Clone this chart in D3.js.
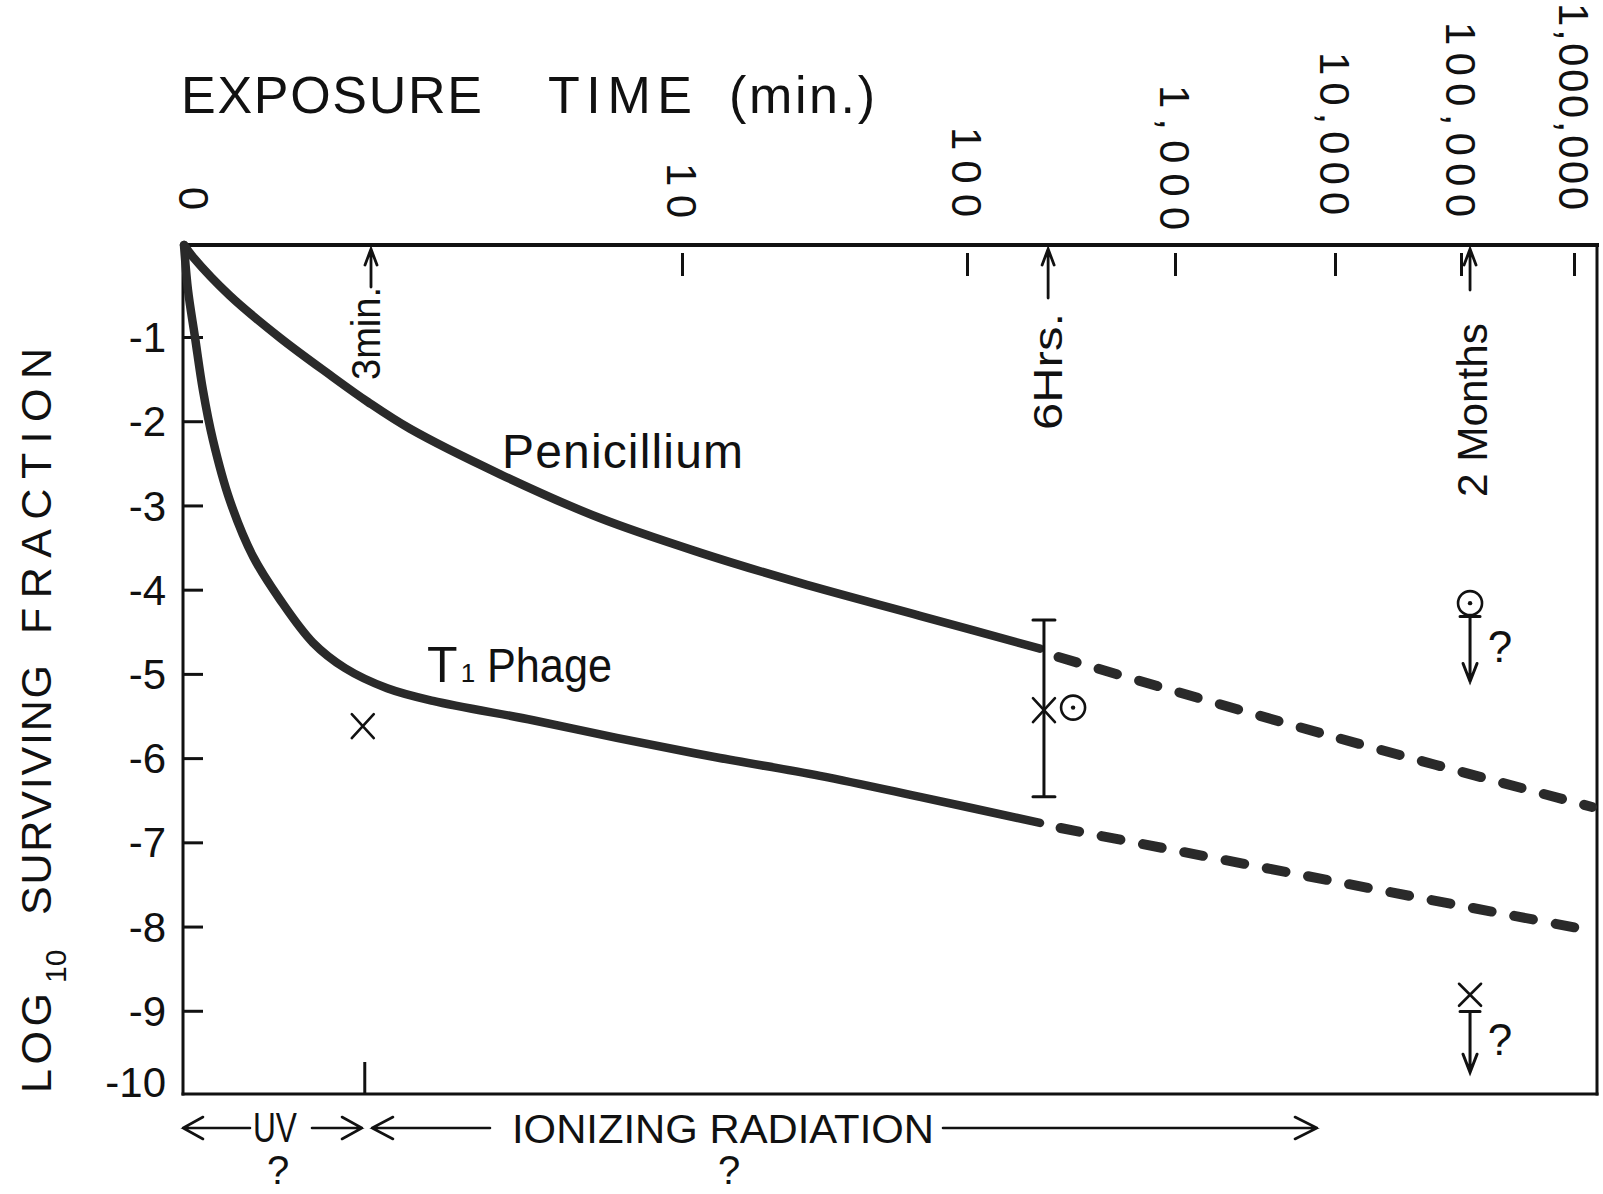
<!DOCTYPE html>
<html><head><meta charset="utf-8">
<script src="https://cdn.jsdelivr.net/npm/d3@7"></script>
<style>html,body{margin:0;background:#fff}svg{display:block}</style>
</head><body>
<svg id="chart" width="1603" height="1194"></svg>
<script>
// ---------------- DATA ----------------
// x positions are in "decade index" units of the exposure-time axis (0 -> 0 min, 1 -> 10 min, ... 6 -> 1,000,000 min)
const xTickIndex = [0, 1, 2, 3, 4, 5, 6];
const xTickLabels = ["0", "10", "100", "1,000", "10,000", "100,000", "1,000,000"];
const yTicks = [-1, -2, -3, -4, -5, -6, -7, -8, -9, -10];

// log10 surviving fraction
const penicilliumSolid = [[0,0],[0.018,-0.13],[0.092,-0.55],[0.193,-1.01],[0.293,-1.45],[0.369,-1.77],[0.454,-2.09],[0.635,-2.63],[0.835,-3.15],[1.063,-3.56],[1.414,-3.92],[1.835,-4.31],[2.351,-4.70]];
const penicilliumDashed = [[2.44,-4.80],[3.96,-5.73],[6.16,-6.58]];
const phageSolid = [[0,0],[0.008,-0.49],[0.022,-1.00],[0.038,-1.63],[0.058,-2.22],[0.092,-2.94],[0.139,-3.61],[0.193,-4.12],[0.259,-4.63],[0.323,-4.93],[0.408,-5.17],[0.5,-5.32],[0.701,-5.55],[0.869,-5.76],[1.119,-5.99],[1.484,-6.21],[1.835,-6.46],[2.351,-6.77]];
const phageDashed = [[2.45,-6.83],[3.96,-7.45],[6.16,-8.05]];

const crossPoints = [[0.359,-5.62],[2.37,-5.43]];
const circlePoints = [[2.51,-5.40]];
const errorBars = [[2.37,-4.36,-6.46]];
// upper-limit points at 2 months: [x, value, capValue, arrowEndValue, kind]
const limitPoints = [[5.08,-4.16,-4.32,-5.09,"circle"],[5.08,-8.81,-9.01,-9.73,"cross"]];

const timeMarks = [[0.3755,"3min."],[2.39,"6Hrs."],[5.08,"2 Months"]];
const regionBoundary = [0.363];

// ---------------- LAYOUT ----------------
const FONT = "'Liberation Sans', Arial, Helvetica, sans-serif";
const xRange = [184, 682, 967, 1175, 1335, 1461, 1574];
const x = d3.scaleLinear().domain(xTickIndex).range(xRange);
const y = d3.scaleLinear().domain([0, -1, -10]).range([245, 337, 1095]);
const F = {left: 183, right: 1597, top: 245, bottom: 1094};
const INK = "#111";
const CURVE = "#2a2a2a";

const svg = d3.select("#chart");
svg.append("rect").attr("width",1603).attr("height",1194).attr("fill","#fff");

// frame
const frame = svg.append("g").attr("stroke", INK).attr("stroke-linecap","square");
frame.append("line").attr("x1",F.left).attr("x2",F.right).attr("y1",F.top).attr("y2",F.top).attr("stroke-width",4);
frame.append("line").attr("x1",F.left).attr("x2",F.left).attr("y1",F.top).attr("y2",F.bottom).attr("stroke-width",3);
frame.append("line").attr("x1",F.right).attr("x2",F.right).attr("y1",F.top).attr("y2",F.bottom).attr("stroke-width",3);
frame.append("line").attr("x1",F.left).attr("x2",F.right).attr("y1",F.bottom).attr("y2",F.bottom).attr("stroke-width",3);

// top ticks (detached, inward)
const topAxis = svg.append("g").attr("transform","translate(0,253)")
  .call(d3.axisBottom(x).tickValues(xTickIndex.slice(1)).tickSize(23).tickFormat(""));
topAxis.select(".domain").remove();
topAxis.selectAll("line").attr("stroke",INK).attr("stroke-width",3);

// top tick labels (rotated, read top to bottom)
const labEnd = [210, 218, 217, 230, 215, 217, 210];
const labLen = [null, 55, 90, 145, 163, 195, 207];
xTickIndex.forEach((d,i)=>{
  const t = svg.append("text")
    .attr("transform",`translate(${x(d)+(i===0?10:0)},${labEnd[i]}) rotate(90)`)
    .attr("text-anchor","end").attr("dy","0.36em")
    .attr("font-family",FONT).attr("font-size",42).attr("fill",INK)
    .text(xTickLabels[i]);
  if (labLen[i]) t.attr("textLength",labLen[i]).attr("lengthAdjust","spacing");
});

// left axis ticks
const leftAxis = svg.append("g").attr("transform",`translate(${F.left},0)`)
  .call(d3.axisRight(y).tickValues(yTicks.slice(0,-1)).tickSize(20).tickFormat(""));
leftAxis.select(".domain").remove();
leftAxis.selectAll("line").attr("stroke",INK).attr("stroke-width",3);

yTicks.forEach((v,i)=>{
  svg.append("text").attr("x",166).attr("y",y(v) + (i===yTicks.length-1 ? -13 : 0))
    .attr("dy","0.36em").attr("text-anchor","end")
    .attr("font-family",FONT).attr("font-size",42).attr("fill",INK)
    .text(String(v));
});

// bottom boundary tick
regionBoundary.forEach(b=>{
  svg.append("line").attr("x1",x(b)).attr("x2",x(b)).attr("y1",1062).attr("y2",F.bottom)
    .attr("stroke",INK).attr("stroke-width",3);
});

// title
const title = [["EXPOSURE",181,301],["TIME",548,144],["(min.)",729,146]];
title.forEach(([t,x0,len])=>{
  svg.append("text").attr("x",x0).attr("y",113).attr("font-family",FONT).attr("font-size",52)
    .attr("fill",INK).attr("textLength",len).attr("lengthAdjust","spacing").text(t);
});

// y axis label
const yl = [["LOG",51,1093,100,43],["10",66,983,null,30],["SURVIVING",51,915,250,43],["FRACTION",51,634,286,43]];
yl.forEach(([t,bx,sy,len,fs])=>{
  const tt = svg.append("text").attr("transform",`translate(${bx},${sy}) rotate(-90)`)
    .attr("font-family",FONT).attr("font-size",fs).attr("fill",INK).text(t);
  if (len) tt.attr("textLength",len).attr("lengthAdjust","spacing");
});

// curves
const line = d3.line().x(d=>x(d[0])).y(d=>y(d[1])).curve(d3.curveCatmullRom.alpha(0.5));
[penicilliumSolid, phageSolid].forEach(s=>{
  svg.append("path").attr("d",line(s)).attr("fill","none").attr("stroke",CURVE)
    .attr("stroke-width",8.5).attr("stroke-linecap","round").attr("stroke-linejoin","round");
});
[penicilliumDashed, phageDashed].forEach(s=>{
  svg.append("path").attr("d",line(s)).attr("fill","none").attr("stroke",CURVE)
    .attr("stroke-width",10).attr("stroke-linecap","round").attr("stroke-dasharray","19 23");
});

// curve labels
svg.append("text").attr("x",502).attr("y",468).attr("font-family",FONT).attr("font-size",48)
  .attr("fill",INK).attr("textLength",241).attr("lengthAdjust","spacing").text("Penicillium");
svg.append("text").attr("x",427).attr("y",682).attr("font-family",FONT).attr("font-size",50)
  .attr("fill",INK).text("T");
svg.append("text").attr("x",468).attr("y",682).attr("text-anchor","middle").attr("font-family",FONT).attr("font-size",26)
  .attr("fill",INK).text("1");
svg.append("text").attr("x",487).attr("y",682).attr("font-family",FONT).attr("font-size",48)
  .attr("fill",INK).attr("textLength",125).attr("lengthAdjust","spacingAndGlyphs").text("Phage");

// markers
const g = svg.append("g").attr("stroke",INK).attr("fill","none").attr("stroke-width",2.6).attr("stroke-linecap","round");
function cross(cx,cy,w,h){
  g.append("path").attr("d",`M${cx-w/2},${cy-h/2}L${cx+w/2},${cy+h/2}M${cx+w/2},${cy-h/2}L${cx-w/2},${cy+h/2}`);
}
function circ(cx,cy){
  g.append("circle").attr("cx",cx).attr("cy",cy).attr("r",12);
  g.append("circle").attr("cx",cx).attr("cy",cy).attr("r",2.2).attr("fill",INK).attr("stroke","none");
}
crossPoints.forEach(([a,b])=>cross(x(a),y(b),22,24));
circlePoints.forEach(([a,b])=>circ(x(a),y(b)));
errorBars.forEach(([a,hi,lo])=>{
  const cx=x(a);
  g.append("path").attr("d",`M${cx},${y(hi)}V${y(lo)}M${cx-11},${y(hi)}H${cx+11}M${cx-11},${y(lo)}H${cx+11}`).attr("stroke-width",3);
});
limitPoints.forEach(([a,v,cap,end,kind])=>{
  const cx=x(a);
  if(kind==="circle") circ(cx,y(v)); else cross(cx,y(v),22,22);
  g.append("path").attr("d",`M${cx-10},${y(cap)}H${cx+10}M${cx},${y(cap)}V${y(end)}M${cx-7},${y(end)-18}L${cx},${y(end)}L${cx+7},${y(end)-18}`).attr("stroke-width",3);
  svg.append("text").attr("x",cx+30).attr("y",y(cap)+(kind==="circle"?45:43)).attr("text-anchor","middle")
    .attr("font-family",FONT).attr("font-size",44).attr("fill",INK).text("?");
});

// time markers (arrows pointing to top axis with rotated labels)
const tm = {"3min.":{bottom:380,len:93,top:287,fs:40,off:9},"6Hrs.":{bottom:430,len:117,top:298,fs:41,off:14},"2 Months":{bottom:497,len:174,top:290,fs:43,off:17}};
timeMarks.forEach(([a,label])=>{
  const cx=x(a), L=tm[label];
  g.append("path").attr("d",`M${cx},${L.top}V${F.top+4}M${cx-6},${F.top+20}L${cx},${F.top+4}L${cx+6},${F.top+20}`).attr("stroke-width",2.8);
  svg.append("text").attr("transform",`translate(${cx+L.off},${L.bottom}) rotate(-90)`)
    .attr("font-family",FONT).attr("font-size",L.fs).attr("fill",INK)
    .attr("textLength",L.len).attr("lengthAdjust","spacingAndGlyphs").text(label);
});

// bottom region annotations
const by = 1128;
const b = svg.append("g").attr("stroke",INK).attr("fill","none").attr("stroke-width",2.6).attr("stroke-linecap","round");
b.append("path").attr("d",`M${F.left},${by}H250M${F.left+20},${by-11}L${F.left},${by}L${F.left+20},${by+11}`);
b.append("path").attr("d",`M312,${by}H362M342,${by-11}L362,${by}L342,${by+11}`);
b.append("path").attr("d",`M372,${by}H490M393,${by-11}L372,${by}L393,${by+11}`);
b.append("path").attr("d",`M943,${by}H1317M1295,${by-11}L1317,${by}L1295,${by+11}`);
svg.append("text").attr("x",253).attr("y",1142).attr("font-family",FONT).attr("font-size",42).attr("fill",INK)
  .attr("textLength",44).attr("lengthAdjust","spacingAndGlyphs").text("UV");
svg.append("text").attr("x",512).attr("y",1143).attr("font-family",FONT).attr("font-size",40).attr("fill",INK)
  .attr("textLength",422).attr("lengthAdjust","spacingAndGlyphs").text("IONIZING RADIATION");
svg.append("text").attr("x",278).attr("y",1184).attr("text-anchor","middle").attr("font-family",FONT).attr("font-size",40).attr("fill",INK).text("?");
svg.append("text").attr("x",729).attr("y",1184).attr("text-anchor","middle").attr("font-family",FONT).attr("font-size",40).attr("fill",INK).text("?");
</script>
</body></html>
